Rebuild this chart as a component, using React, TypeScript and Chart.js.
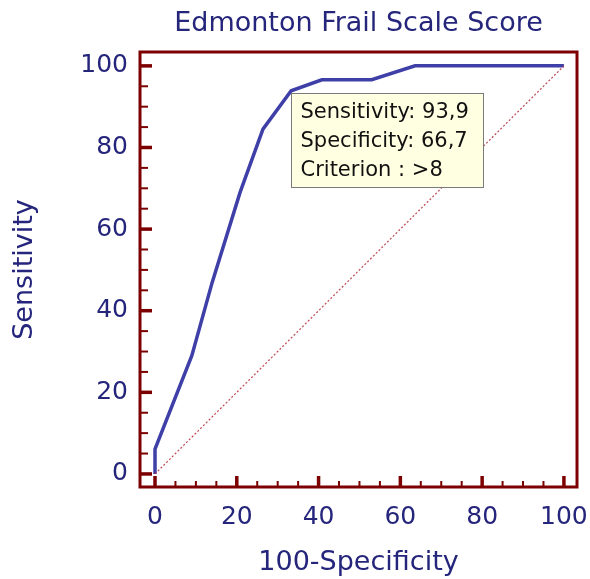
import React, { useEffect, useRef } from "react";
import { Chart, registerables } from "chart.js";

Chart.register(...registerables);

const rocX = [0, 0, 9, 14, 20.8, 26.4, 33.3, 40.8, 53, 63.6, 100];
const rocY = [0, 6.1, 29, 47, 69, 84.5, 93.9, 96.6, 96.6, 100, 100];
const diagX = [0, 100];
const diagY = [0, 100];
const tickValues = [0, 20, 40, 60, 80, 100];
const minorStep = 5;
const cutPoint = { x: 33.3, y: 93.9 };
const cutLabels = ["Sensitivity: 93,9", "Specificity: 66,7", "Criterion : >8"];

const FONT = "'DejaVu Sans', sans-serif";
const NAVY = "#25257c";
const FRAME = "#7c0000";

const framePlugin = {
  id: "framePlugin",
  afterDraw(chart: any) {
    const { ctx, chartArea: a, scales } = chart;
    const xs = scales.x;
    const ys = scales.y;
    ctx.save();
    ctx.strokeStyle = FRAME;
    for (let v = 0; v <= 100; v += minorStep) {
      const major = v % 20 === 0;
      ctx.lineWidth = major ? 3.5 : 2;
      const px = xs.getPixelForValue(v);
      ctx.beginPath();
      ctx.moveTo(px, a.bottom);
      ctx.lineTo(px, a.bottom - (major ? 11 : 6));
      ctx.stroke();
      const py = ys.getPixelForValue(v);
      ctx.beginPath();
      ctx.moveTo(a.left, py);
      ctx.lineTo(a.left + (major ? 12 : 8), py);
      ctx.stroke();
    }
    ctx.lineWidth = 3;
    ctx.strokeRect(a.left, a.top, a.right - a.left, a.bottom - a.top);
    const bx = Math.round(xs.getPixelForValue(cutPoint.x)) + 0.5;
    const by = Math.round(ys.getPixelForValue(cutPoint.y)) + 2.5;
    const bw = 192;
    const bh = 94;
    ctx.fillStyle = "#ffffe1";
    ctx.fillRect(bx, by, bw, bh);
    ctx.lineWidth = 1;
    ctx.strokeStyle = "#7a7a7a";
    ctx.strokeRect(bx, by, bw, bh);
    ctx.fillStyle = "#111111";
    ctx.font = `21px ${FONT}`;
    ctx.textBaseline = "middle";
    ctx.textAlign = "left";
    cutLabels.forEach((t, i) => {
      ctx.fillText(t, bx + 9, by + 19 + i * 29);
    });
    ctx.restore();
  },
};

export default function App() {
  const ref = useRef<HTMLCanvasElement | null>(null);
  useEffect(() => {
    if (!ref.current) return;
    const chart = new Chart(ref.current, {
      type: "scatter",
      data: {
        datasets: [
          {
            data: diagX.map((x, i) => ({ x, y: diagY[i] })),
            showLine: true,
            borderColor: "rgba(185,50,65,0.9)",
            borderWidth: 1.2,
            borderDash: [2, 2],
            pointRadius: 0,
          },
          {
            data: rocX.map((x, i) => ({ x, y: rocY[i] })),
            showLine: true,
            borderColor: "#3f3fa8",
            borderWidth: 3.5,
            pointRadius: 0,
            tension: 0,
          },
        ],
      },
      plugins: [framePlugin],
      options: {
        responsive: false,
        animation: false,
        layout: { padding: { left: 0, right: 13, top: 0, bottom: 0 } },
        plugins: {
          legend: { display: false },
          tooltip: { enabled: false },
          title: {
            display: true,
            text: "Edmonton Frail Scale Score",
            fullSize: false,
            color: NAVY,
            font: { family: FONT, size: 27, weight: "normal", lineHeight: 1.2 },
            padding: { top: 8, bottom: 11.6 },
          },
        },
        scales: {
          x: {
            type: "linear",
            min: -3.67,
            max: 103.2,
            grid: { display: false, drawTicks: false },
            border: { display: false },
            afterBuildTicks: (s: any) => {
              s.ticks = tickValues.map((v) => ({ value: v }));
            },
            afterFit: (s: any) => {
              s.height = 92;
              s.paddingLeft = 0;
              s.paddingRight = 0;
            },
            ticks: {
              color: NAVY,
              padding: 15,
              maxRotation: 0,
              autoSkip: false,
              font: { family: FONT, size: 25 },
            },
            title: {
              display: true,
              text: "100-Specificity",
              color: NAVY,
              font: { family: FONT, size: 27, lineHeight: 1.2 },
              padding: { top: 0, bottom: 0 },
            },
          },
          y: {
            type: "linear",
            min: -3.2,
            max: 103.4,
            grid: { display: false, drawTicks: false },
            border: { display: false },
            afterBuildTicks: (s: any) => {
              s.ticks = tickValues.map((v) => ({ value: v }));
            },
            afterFit: (s: any) => {
              s.width = 140;
              s.paddingTop = 0;
              s.paddingBottom = 0;
            },
            ticks: {
              color: NAVY,
              padding: 12,
              autoSkip: false,
              font: { family: FONT, size: 25 },
            },
            title: {
              display: true,
              text: "Sensitivity",
              color: NAVY,
              font: { family: FONT, size: 27, lineHeight: 1.2 },
              padding: { top: 9, bottom: 0 },
            },
          },
        },
      },
    });
    return () => chart.destroy();
  }, []);
  return (
    <div style={{ position: "absolute", left: 0, top: 0, width: 590, height: 579, background: "#fff" }}>
      <canvas ref={ref} width={590} height={579} style={{ display: "block" }} />
    </div>
  );
}
